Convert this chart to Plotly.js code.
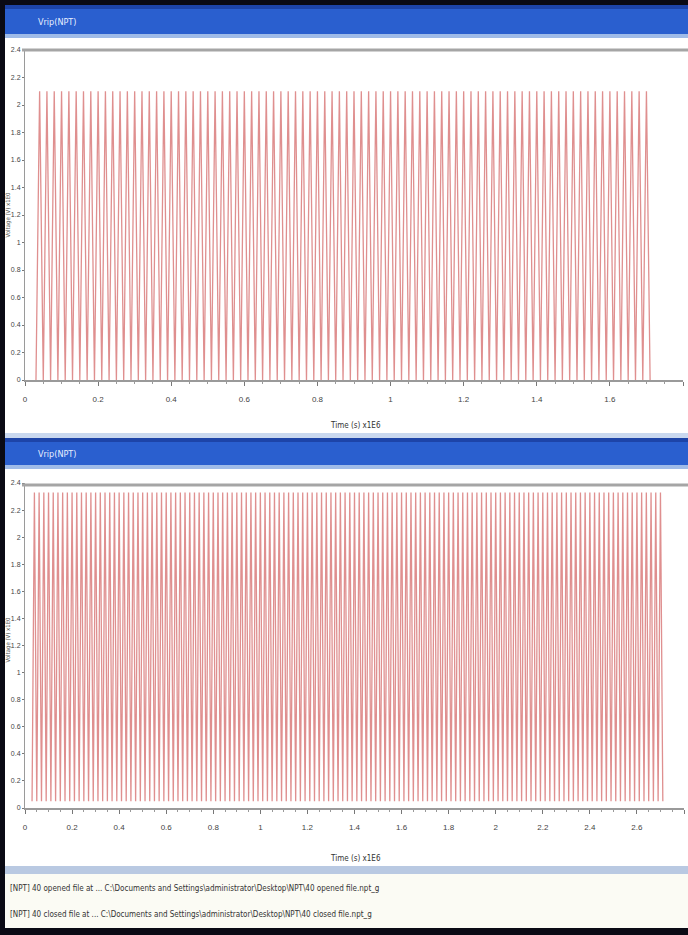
<!DOCTYPE html>
<html>
<head>
<meta charset="utf-8">
<script src="https://cdn.plot.ly/plotly-3.0.1.min.js"></script>
<style>
html,body{margin:0;padding:0;background:#fff;}
#chart{width:688px;height:935px;}
</style>
</head>
<body>
<div id="chart"></div>
<script>
// ---------- data ----------
const topTitle = "Vrip(NPT)";
const bottomTitle = "Vrip(NPT)";
const xTitle = "Time (s) x1E6";
const yTitle = "Voltage (V) x1E0";
const statusLines = [
  "[NPT] 40 opened file at ... C:\\Documents and Settings\\administrator\\Desktop\\NPT\\40 opened file.npt_g",
  "[NPT] 40 closed file at ... C:\\Documents and Settings\\administrator\\Desktop\\NPT\\40 closed file.npt_g"
];

// top waveform: turning points (time, level)
const topTime = [
0.03,0.04,0.05,0.06,0.07,0.08,0.09,
0.10,0.11,0.12,0.13,0.14,0.15,0.16,0.17,0.18,0.19,
0.20,0.21,0.22,0.23,0.24,0.25,0.26,0.27,0.28,0.29,
0.30,0.31,0.32,0.33,0.34,0.35,0.36,0.37,0.38,0.39,
0.40,0.41,0.42,0.43,0.44,0.45,0.46,0.47,0.48,0.49,
0.50,0.51,0.52,0.53,0.54,0.55,0.56,0.57,0.58,0.59,
0.60,0.61,0.62,0.63,0.64,0.65,0.66,0.67,0.68,0.69,
0.70,0.71,0.72,0.73,0.74,0.75,0.76,0.77,0.78,0.79,
0.80,0.81,0.82,0.83,0.84,0.85,0.86,0.87,0.88,0.89,
0.90,0.91,0.92,0.93,0.94,0.95,0.96,0.97,0.98,0.99,
1.00,1.01,1.02,1.03,1.04,1.05,1.06,1.07,1.08,1.09,
1.10,1.11,1.12,1.13,1.14,1.15,1.16,1.17,1.18,1.19,
1.20,1.21,1.22,1.23,1.24,1.25,1.26,1.27,1.28,1.29,
1.30,1.31,1.32,1.33,1.34,1.35,1.36,1.37,1.38,1.39,
1.40,1.41,1.42,1.43,1.44,1.45,1.46,1.47,1.48,1.49,
1.50,1.51,1.52,1.53,1.54,1.55,1.56,1.57,1.58,1.59,
1.60,1.61,1.62,1.63,1.64,1.65,1.66,1.67,1.68,1.69,
1.70,1.71];
const topValue = [
0,2.1,0,2.1,0,2.1,0,
2.1,0,2.1,0,2.1,0,2.1,0,2.1,0,
2.1,0,2.1,0,2.1,0,2.1,0,2.1,0,
2.1,0,2.1,0,2.1,0,2.1,0,2.1,0,
2.1,0,2.1,0,2.1,0,2.1,0,2.1,0,
2.1,0,2.1,0,2.1,0,2.1,0,2.1,0,
2.1,0,2.1,0,2.1,0,2.1,0,2.1,0,
2.1,0,2.1,0,2.1,0,2.1,0,2.1,0,
2.1,0,2.1,0,2.1,0,2.1,0,2.1,0,
2.1,0,2.1,0,2.1,0,2.1,0,2.1,0,
2.1,0,2.1,0,2.1,0,2.1,0,2.1,0,
2.1,0,2.1,0,2.1,0,2.1,0,2.1,0,
2.1,0,2.1,0,2.1,0,2.1,0,2.1,0,
2.1,0,2.1,0,2.1,0,2.1,0,2.1,0,
2.1,0,2.1,0,2.1,0,2.1,0,2.1,0,
2.1,0,2.1,0,2.1,0,2.1,0,2.1,0,
2.1,0,2.1,0,2.1,0,2.1,0,2.1,0,
2.1,0];

// bottom waveform: turning points (time, level)
const bottomTime = [
0.03,0.04,0.05,0.06,0.07,0.08,0.09,
0.10,0.11,0.12,0.13,0.14,0.15,0.16,0.17,0.18,0.19,
0.20,0.21,0.22,0.23,0.24,0.25,0.26,0.27,0.28,0.29,
0.30,0.31,0.32,0.33,0.34,0.35,0.36,0.37,0.38,0.39,
0.40,0.41,0.42,0.43,0.44,0.45,0.46,0.47,0.48,0.49,
0.50,0.51,0.52,0.53,0.54,0.55,0.56,0.57,0.58,0.59,
0.60,0.61,0.62,0.63,0.64,0.65,0.66,0.67,0.68,0.69,
0.70,0.71,0.72,0.73,0.74,0.75,0.76,0.77,0.78,0.79,
0.80,0.81,0.82,0.83,0.84,0.85,0.86,0.87,0.88,0.89,
0.90,0.91,0.92,0.93,0.94,0.95,0.96,0.97,0.98,0.99,
1.00,1.01,1.02,1.03,1.04,1.05,1.06,1.07,1.08,1.09,
1.10,1.11,1.12,1.13,1.14,1.15,1.16,1.17,1.18,1.19,
1.20,1.21,1.22,1.23,1.24,1.25,1.26,1.27,1.28,1.29,
1.30,1.31,1.32,1.33,1.34,1.35,1.36,1.37,1.38,1.39,
1.40,1.41,1.42,1.43,1.44,1.45,1.46,1.47,1.48,1.49,
1.50,1.51,1.52,1.53,1.54,1.55,1.56,1.57,1.58,1.59,
1.60,1.61,1.62,1.63,1.64,1.65,1.66,1.67,1.68,1.69,
1.70,1.71,1.72,1.73,1.74,1.75,1.76,1.77,1.78,1.79,
1.80,1.81,1.82,1.83,1.84,1.85,1.86,1.87,1.88,1.89,
1.90,1.91,1.92,1.93,1.94,1.95,1.96,1.97,1.98,1.99,
2.00,2.01,2.02,2.03,2.04,2.05,2.06,2.07,2.08,2.09,
2.10,2.11,2.12,2.13,2.14,2.15,2.16,2.17,2.18,2.19,
2.20,2.21,2.22,2.23,2.24,2.25,2.26,2.27,2.28,2.29,
2.30,2.31,2.32,2.33,2.34,2.35,2.36,2.37,2.38,2.39,
2.40,2.41,2.42,2.43,2.44,2.45,2.46,2.47,2.48,2.49,
2.50,2.51,2.52,2.53,2.54,2.55,2.56,2.57,2.58,2.59,
2.60,2.61,2.62,2.63,2.64,2.65,2.66,2.67,2.68,2.69,
2.70,2.71];
const bottomValue = [
0.05,2.33,0.05,2.33,0.05,2.33,0.05,
2.33,0.05,2.33,0.05,2.33,0.05,2.33,0.05,2.33,0.05,
2.33,0.05,2.33,0.05,2.33,0.05,2.33,0.05,2.33,0.05,
2.33,0.05,2.33,0.05,2.33,0.05,2.33,0.05,2.33,0.05,
2.33,0.05,2.33,0.05,2.33,0.05,2.33,0.05,2.33,0.05,
2.33,0.05,2.33,0.05,2.33,0.05,2.33,0.05,2.33,0.05,
2.33,0.05,2.33,0.05,2.33,0.05,2.33,0.05,2.33,0.05,
2.33,0.05,2.33,0.05,2.33,0.05,2.33,0.05,2.33,0.05,
2.33,0.05,2.33,0.05,2.33,0.05,2.33,0.05,2.33,0.05,
2.33,0.05,2.33,0.05,2.33,0.05,2.33,0.05,2.33,0.05,
2.33,0.05,2.33,0.05,2.33,0.05,2.33,0.05,2.33,0.05,
2.33,0.05,2.33,0.05,2.33,0.05,2.33,0.05,2.33,0.05,
2.33,0.05,2.33,0.05,2.33,0.05,2.33,0.05,2.33,0.05,
2.33,0.05,2.33,0.05,2.33,0.05,2.33,0.05,2.33,0.05,
2.33,0.05,2.33,0.05,2.33,0.05,2.33,0.05,2.33,0.05,
2.33,0.05,2.33,0.05,2.33,0.05,2.33,0.05,2.33,0.05,
2.33,0.05,2.33,0.05,2.33,0.05,2.33,0.05,2.33,0.05,
2.33,0.05,2.33,0.05,2.33,0.05,2.33,0.05,2.33,0.05,
2.33,0.05,2.33,0.05,2.33,0.05,2.33,0.05,2.33,0.05,
2.33,0.05,2.33,0.05,2.33,0.05,2.33,0.05,2.33,0.05,
2.33,0.05,2.33,0.05,2.33,0.05,2.33,0.05,2.33,0.05,
2.33,0.05,2.33,0.05,2.33,0.05,2.33,0.05,2.33,0.05,
2.33,0.05,2.33,0.05,2.33,0.05,2.33,0.05,2.33,0.05,
2.33,0.05,2.33,0.05,2.33,0.05,2.33,0.05,2.33,0.05,
2.33,0.05,2.33,0.05,2.33,0.05,2.33,0.05,2.33,0.05,
2.33,0.05,2.33,0.05,2.33,0.05,2.33,0.05,2.33,0.05,
2.33,0.05,2.33,0.05,2.33,0.05,2.33,0.05,2.33,0.05,
2.33,0.05];

const topXRange = [0, 1.8];
const bottomXRange = [0, 2.8];
const yRange = [0, 2.4];

// ---------- layout helpers (pixel -> paper) ----------
const W = 688, H = 935;
const px = v => v / W;
const py = v => 1 - v / H;

function rect(x0, y0, x1, y1, color) {
  return {type:'rect', xref:'paper', yref:'paper', layer:'below',
    x0:px(x0), x1:px(x1), y0:py(y1), y1:py(y0),
    fillcolor:color, line:{width:0}};
}
function hline(x0, x1, y, color, w) {
  return {type:'line', xref:'paper', yref:'paper', layer:'above',
    x0:px(x0), x1:px(x1), y0:py(y), y1:py(y), line:{color:color, width:w}};
}

const lineColor = 'rgba(210,95,95,0.7)';
const tickFont = {family:'Liberation Sans, Arial, sans-serif', size:7, color:'#444'};
const smallFont = {family:'DejaVu Sans Condensed, Liberation Sans, sans-serif', size:8, color:'#333'};
const yTitleFont = {family:'DejaVu Sans Condensed, Liberation Sans, sans-serif', size:6, color:'#555'};

const traces = [
  {x: topTime, y: topValue, type:'scatter', mode:'lines', xaxis:'x', yaxis:'y',
   line:{color:lineColor, width:1.3}, hoverinfo:'skip'},
  {x: bottomTime, y: bottomValue, type:'scatter', mode:'lines', xaxis:'x2', yaxis:'y2',
   line:{color:lineColor, width:1.3}, hoverinfo:'skip'}
];

function xAxis(range, d0, d1, anchor) {
  return {range:range, domain:[d0, d1], anchor:anchor, dtick:0.2, tick0:0,
    showline:true, linecolor:'#9a9a9a', linewidth:1.5,
    ticks:'outside', ticklen:4, tickcolor:'#777', tickwidth:1,
    minor:{ticks:'outside', ticklen:2, tickcolor:'#999', nticks:5},
    tickfont:{family:'Liberation Sans, Arial, sans-serif', size:8, color:'#444'}, ticklabelstandoff:7,
    showgrid:false, zeroline:false, fixedrange:true};
}
function yAxis(d0, d1, anchor) {
  return {range:yRange, domain:[d0, d1], anchor:anchor, dtick:0.2, tick0:0,
    showline:true, linecolor:'#9a9a9a', linewidth:1,
    ticks:'outside', ticklen:2, tickcolor:'#777', tickwidth:1,
    tickfont:tickFont, ticklabelstandoff:0,
    showgrid:false, zeroline:false, fixedrange:true};
}

const layout = {
  width: W, height: H,
  margin:{l:0, r:0, t:0, b:0},
  paper_bgcolor:'#ffffff',
  plot_bgcolor:'#ffffff',
  showlegend:false,
  xaxis: xAxis(topXRange, px(25), px(683), 'y'),
  yaxis: yAxis(py(380), py(50), 'x'),
  xaxis2: xAxis(bottomXRange, px(25), px(684), 'y2'),
  yaxis2: yAxis(py(808), py(483), 'x2'),
  shapes: [
    // window frame
    rect(0, 0, 688, 5, '#0a0a14'),
    rect(0, 0, 5, 935, '#0a0a14'),
    rect(0, 928, 688, 935, '#0a0a14'),
    // first title bar
    rect(5, 5, 688, 36, '#2a5fcf'),
    rect(5, 5, 688, 9, '#1d44a8'),
    rect(5, 34, 688, 38, '#9fbbe8'),
    // divider and second title bar
    rect(5, 433, 688, 438, '#c9d8ef'),
    rect(5, 438, 688, 467, '#2a5fcf'),
    rect(5, 438, 688, 442, '#1d44a8'),
    rect(5, 465, 688, 469, '#9fbbe8'),
    // status area
    rect(5, 866, 688, 874, '#b9c9e2'),
    rect(5, 874, 688, 928, '#fbfbf4'),
    // top frame lines of the plots
    hline(22, 688, 50, '#a5a5a5', 3),
    hline(22, 688, 485, '#a5a5a5', 3)
  ],
  annotations: [
    {text: topTitle, xref:'paper', yref:'paper', x:px(36), y:py(22), xanchor:'left', yanchor:'middle',
     showarrow:false, font:{family:'DejaVu Sans Condensed, sans-serif', size:9, color:'#e8eeff'}},
    {text: bottomTitle, xref:'paper', yref:'paper', x:px(36), y:py(454), xanchor:'left', yanchor:'middle',
     showarrow:false, font:{family:'DejaVu Sans Condensed, sans-serif', size:9, color:'#e8eeff'}},
    {text: xTitle, xref:'paper', yref:'paper', x:px(355), y:py(425), xanchor:'center', yanchor:'middle',
     showarrow:false, font:smallFont},
    {text: xTitle, xref:'paper', yref:'paper', x:px(355), y:py(858), xanchor:'center', yanchor:'middle',
     showarrow:false, font:smallFont},
    {text: yTitle, xref:'paper', yref:'paper', x:px(7.5), y:py(215), xanchor:'center', yanchor:'middle',
     textangle:-90, showarrow:false, font:yTitleFont},
    {text: yTitle, xref:'paper', yref:'paper', x:px(7.5), y:py(640), xanchor:'center', yanchor:'middle',
     textangle:-90, showarrow:false, font:yTitleFont},
    {text: statusLines[0], xref:'paper', yref:'paper', x:px(8), y:py(888), xanchor:'left', yanchor:'middle',
     showarrow:false, font:smallFont},
    {text: statusLines[1], xref:'paper', yref:'paper', x:px(8), y:py(914), xanchor:'left', yanchor:'middle',
     showarrow:false, font:smallFont}
  ]
};

Plotly.newPlot('chart', traces, layout, {staticPlot:true, displayModeBar:false});
</script>
</body>
</html>
